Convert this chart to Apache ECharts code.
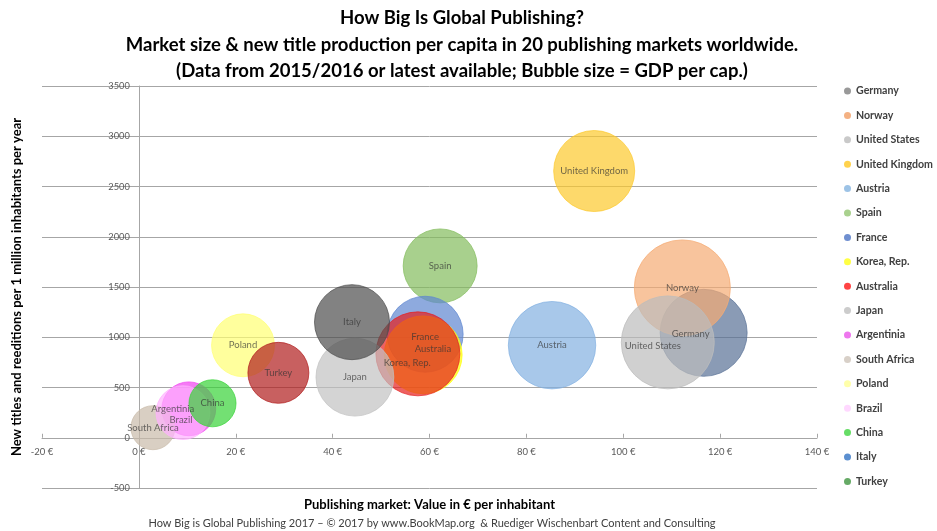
<!DOCTYPE html>
<html>
<head>
<meta charset="utf-8">
<script src="https://cdn.jsdelivr.net/npm/echarts@6/dist/echarts.min.js"></script>
<style>
html,body{margin:0;padding:0;background:#fff;}
#chart{width:937px;height:531px;}
</style>
</head>
<body>
<div id="chart"></div>
<script>
// ---- data ----
const countries = ['Germany','Norway','United States','United Kingdom','Austria','Spain','France','Korea, Rep.','Australia','Japan','Argentinia','South Africa','Poland','Brazil','China','Italy','Turkey'];
// Publishing market value in EUR per inhabitant
const marketPerCapita = [116.6,112.2,109.2,94.0,85.3,62.2,59.1,58.7,57.6,44.6,10.3,2.9,21.5,9.1,15.2,44.0,28.8];
// New titles and reeditions per 1 million inhabitants per year
const titlesPerMillion = [1044,1491,949,2654,921,1710,1030,825,835,603,288,100,920,250,343,1150,646];
// GDP per capita (bubble size, thousands)
const gdpPerCapita = [57.4,70.0,65.6,49.8,58.0,41.5,43.8,46.0,53.5,46.0,22.0,14.7,30.0,22.0,16.8,42.7,28.2];
// axis ticks
const xTicks = {min:-20, max:140, step:20};
const yTicks = {min:-500, max:3500, step:500};

// ---- styles / layout ----
const bubbleColors = ['#587095','#f5ab74','#bcbcbc','#fcc92c','#83b0e1','#83bc5c','#5e86d0','#ffff00','#e61e1e','#c2c2c2','#f141f1','#c9bba9','#ffff74','#ffb0ff','#38d338','#4d4d4d','#b01c1c'];
const legendColors = ['#999999','#f4b183','#c9c9c9','#ffd24d','#9dc3e6','#a9d18e','#6f8fd0','#ffff44','#ff4444','#cccccc','#ee77ee','#d8d0c8','#ffffaa','#ffd8ff','#66dd66','#5b8fd0','#66aa66'];
const labelOffsets = {'United States':[-15,4],'Germany':[-13,1],'Argentinia':[-16,0],'Brazil':[-2,7],'Korea, Rep.':[-16,8],'Australia':[15,-5],'France':[0,3]};

const W = 937, H = 531;
const GRID = {left:42, right:120, top:86, bottom:43};
const gridW = W - GRID.left - GRID.right;
const gridH = H - GRID.top - GRID.bottom;
// axes cross at zero: shift the axes from the grid edges to the zero lines
const yAxisShift = -gridW * (0 - xTicks.min) / (xTicks.max - xTicks.min);
const xAxisShift = -gridH * (0 - yTicks.min) / (yTicks.max - yTicks.min);

const FONT = 'Lato, "Open Sans", sans-serif';

const series = countries.map((c,i)=>({
  name:c,
  type:'scatter',
  data:[[marketPerCapita[i], titlesPerMillion[i], gdpPerCapita[i]]],
  symbolSize:(d)=>11.48*Math.sqrt(d[2]),
  itemStyle:{color:bubbleColors[i], opacity:0.7, borderColor:bubbleColors[i], borderWidth:1},
  label:{show:true, position:'inside', formatter:c, color:'#333', fontSize:9.5, fontFamily:FONT,
         offset:labelOffsets[c]||[0,0]},
  emphasis:{disabled:true},
  z:2
}));

const chart = echarts.init(document.getElementById('chart'), null, {renderer:'canvas'});
chart.setOption({
  animation:false,
  backgroundColor:'#fff',
  grid:{left:GRID.left, right:GRID.right, top:GRID.top, bottom:GRID.bottom, containLabel:false, outerBoundsMode:'none'},
  xAxis:{
    type:'value', min:xTicks.min, max:xTicks.max, interval:xTicks.step,
    offset:xAxisShift,
    axisLine:{onZero:false, lineStyle:{color:'#a6a6a6'}},
    axisTick:{show:true, inside:true, length:4, lineStyle:{color:'#a6a6a6'}},
    axisLabel:{formatter:'{value} €', color:'#595959', fontSize:9.5, fontFamily:FONT, margin:9},
    splitLine:{show:false},
    name:'Publishing market: Value in € per inhabitant',
    nameLocation:'middle', nameGap:61,
    nameTextStyle:{fontWeight:'bold', fontSize:13, color:'#000', fontFamily:FONT}
  },
  yAxis:{
    type:'value', min:yTicks.min, max:yTicks.max, interval:yTicks.step,
    offset:yAxisShift,
    axisLine:{show:true, onZero:false, lineStyle:{color:'#a6a6a6'}},
    axisTick:{show:false},
    axisLabel:{color:'#595959', fontSize:9.3, fontFamily:FONT, margin:9, formatter:(v)=>String(v)},
    splitLine:{show:true, lineStyle:{color:'#a6a6a6', width:1}},
    name:'New titles and reeditions per 1 million inhabitants per year',
    nameLocation:'middle', nameGap:116,
    nameTextStyle:{fontWeight:'bold', fontSize:13, color:'#000', fontFamily:FONT}
  },
  legend:{
    orient:'vertical', left:844, top:85, padding:0,
    icon:'circle', itemWidth:7, itemHeight:7, itemGap:12.4,
    textStyle:{fontSize:10.6, fontWeight:'bold', color:'#404040', fontFamily:FONT, lineHeight:12},
    data:countries.map((c,i)=>({name:c, itemStyle:{color:legendColors[i], borderWidth:0, opacity:1}})),
    selectedMode:false
  },
  graphic:[
    {type:'text', x:462, y:5, silent:true,
     style:{text:'How Big Is Global Publishing?\nMarket size & new title production per capita in 20 publishing markets worldwide.\n(Data from 2015/2016 or latest available; Bubble size = GDP per cap.)',
            align:'center', textAlign:'center', verticalAlign:'top', textVerticalAlign:'top',
            fontSize:18.5, fontWeight:'bold', fontFamily:FONT, lineHeight:26.5, fill:'#000'}},
    {type:'text', x:432, y:518, silent:true,
     style:{text:'How Big is Global Publishing 2017 – © 2017 by www.BookMap.org  & Ruediger Wischenbart Content and Consulting',
            align:'center', textAlign:'center', verticalAlign:'top', textVerticalAlign:'top',
            fontSize:11, fontFamily:FONT, fill:'#404040'}}
  ],
  series:series
});
</script>
</body>
</html>
